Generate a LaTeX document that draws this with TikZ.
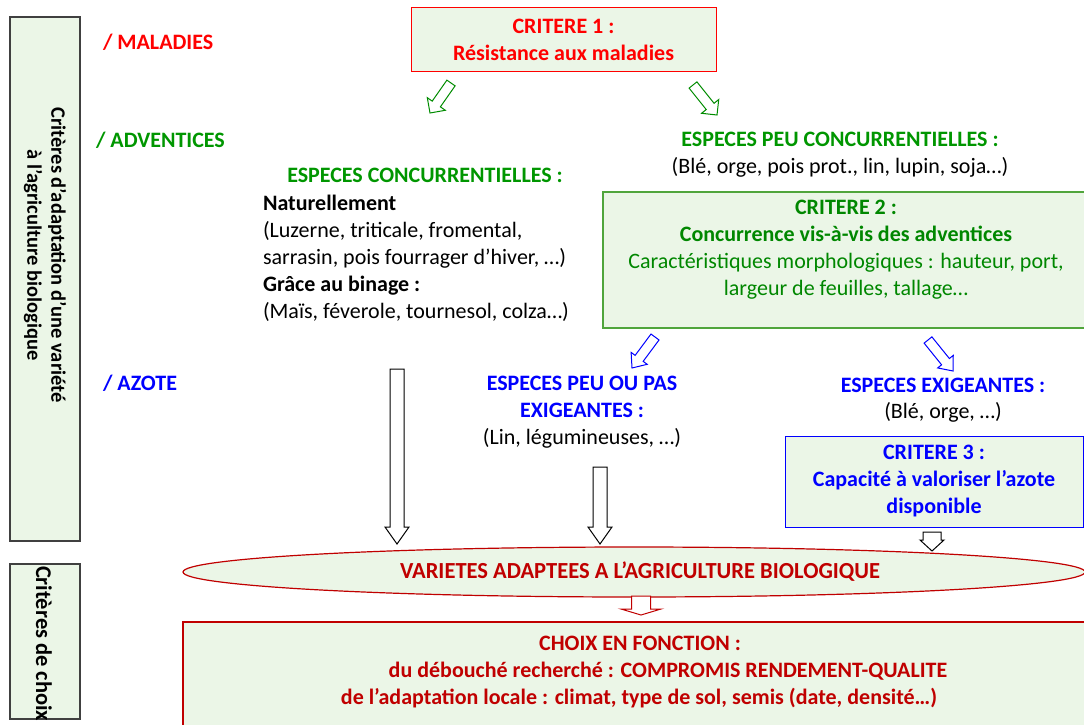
\documentclass[tikz,border=0pt]{standalone}
\usepackage{fontspec}
\setmainfont{Carlito}
\usetikzlibrary{calc,shapes.geometric}
\definecolor{lgfill}{RGB}{235,246,231}
\definecolor{critred}{RGB}{255,0,0}
\definecolor{darkred}{RGB}{192,0,0}
\definecolor{hgreen}{RGB}{0,150,0}
\definecolor{c2green}{RGB}{0,135,0}
\definecolor{c2border}{RGB}{80,165,60}
\definecolor{arrgreen}{RGB}{0,140,0}
\definecolor{tblue}{RGB}{0,0,255}
\definecolor{sidegrey}{RGB}{64,64,64}
\newcommand{\blockarrow}[6]{%
  \path ($(#3)!#6!(#2)$) coordinate (bahd);
  \draw[#1] ($(#2)!#4!90:(#3)$) -- ($(bahd)!#4!90:(#3)$) -- ($(bahd)!#5!90:(#3)$) -- (#3)
    -- ($(bahd)!#5!-90:(#3)$) -- ($(bahd)!#4!-90:(#3)$) -- ($(#2)!#4!-90:(#3)$) -- cycle;}
\begin{document}
\begin{tikzpicture}[x=1pt,y=-1pt,
  every node/.style={inner sep=0pt, outer sep=0pt},
  fr/.style={font=\fontsize{22}{27}\selectfont},
  fb/.style={font=\fontsize{22}{27}\selectfont\bfseries},
  fside/.style={font=\fontsize{20.5}{24}\selectfont\bfseries},
  critbox/.style={rectangle, fill=lgfill, line width=1.2pt, align=center},
  sidebox/.style={rectangle, draw=sidegrey, fill=lgfill, line width=1.2pt},
  harrow/.style={line width=1pt, fill=white, line join=miter}]
\useasboundingbox (0,0) rectangle (1084,725);

% side boxes
\node[sidebox, minimum width=70, minimum height=524] (side1) at (45,279) {};
\node[fside, rotate=-90, align=center] (side1t) at (45,255) {Critères d’adaptation d’une variété\\à l’agriculture biologique};
\node[sidebox, minimum width=70, minimum height=155] (side2) at (45,641.5) {};
\node[font=\fontsize{22.5}{27}\selectfont\bfseries, rotate=-90, anchor=west] (side2t) at (44,566) {Critères de choix};

% row labels
\node[fb, text=critred, anchor=west] (lmal) at (103,42) {/ MALADIES};
\node[fb, text=hgreen, anchor=west] (ladv) at (96,140) {/ ADVENTICES};
\node[fb, text=tblue, anchor=west] (laz) at (103,383) {/ AZOTE};

% critere 1
\node[critbox, fb, draw=critred, text=critred, minimum width=305, minimum height=64, line width=1pt] (c1) at (563.5,40) {CRITERE 1 :\\Résistance aux maladies};

% especes concurrentielles
\node[fb, text=hgreen] (ec) at (425,175) {ESPECES CONCURRENTIELLES :};
\node[fr, anchor=west, align=left] (ecl) at (263,258) {{\bfseries Naturellement}\\(Luzerne, triticale, fromental,\\sarrasin, pois fourrager d’hiver, …)\\{\bfseries Grâce au binage :}\\(Maïs, féverole, tournesol, colza…)};

% especes peu concurrentielles
\node[fb, text=hgreen] (epc) at (840,139) {ESPECES PEU CONCURRENTIELLES :};
\node[fr] (epcl) at (840,167) {(Blé, orge, pois prot., lin, lupin, soja…)};

% critere 2
\node[critbox, draw=c2border, minimum width=486, minimum height=136] (c2) at (846,260) {};
\node[fr, text=c2green, align=center] (c2t) at (846,250) {{\bfseries CRITERE 2 :}\\{\bfseries Concurrence vis-à-vis des adventices}\\Caractéristiques morphologiques : hauteur, port,\\largeur de feuilles, tallage…};

% azote
\node[fb, text=tblue, align=center] (epe) at (582,397) {ESPECES PEU OU PAS\\EXIGEANTES :};
\node[fr] (epel) at (582,438) {(Lin, légumineuses, …)};
\node[fb, text=tblue] (ee) at (943,385) {ESPECES EXIGEANTES :};
\node[fr] (eel) at (943,412) {(Blé, orge, …)};

% critere 3
\node[critbox, fb, draw=tblue, text=tblue, minimum width=298, minimum height=91, line width=1pt] (c3) at (934,481.5) {CRITERE 3 :\\Capacité à valoriser l’azote\\disponible};

% ellipse
\node[ellipse, draw=darkred, fill=lgfill, line width=1.2pt, minimum width=902, minimum height=50] (var) at (634,572) {};
\node[font=\fontsize{23}{27}\selectfont\bfseries, text=darkred, xscale=0.98] (vart) at (640,572) {VARIETES ADAPTEES A L’AGRICULTURE BIOLOGIQUE};

% choix box
\node[rectangle, draw=darkred, fill=lgfill, line width=1.2pt, minimum width=910, minimum height=120, anchor=north west] (choix) at (183,622) {};
\node[fb, text=darkred] (ch1) at (640,643) {CHOIX EN FONCTION :};
\node[fb, text=darkred] (ch2) at (668,671) {du débouché recherché : COMPROMIS RENDEMENT-QUALITE};
\node[fb, text=darkred] (ch3) at (639,698) {de l’adaptation locale : climat, type de sol, semis (date, densité…)};

% arrow coordinates
\coordinate (g1a) at (451,83);  \coordinate (g1b) at (430,113);
\coordinate (g2a) at (693,85);  \coordinate (g2b) at (717,115);
\coordinate (b1a) at (655,337); \coordinate (b1b) at (632,368);
\coordinate (b2a) at (928,340); \coordinate (b2b) at (953,371);
\coordinate (k1a) at (397,369); \coordinate (k1b) at (397,544);
\coordinate (k2a) at (600,467); \coordinate (k2b) at (600,544);
\coordinate (k3a) at (932,532); \coordinate (k3b) at (932,551);
\coordinate (r1a) at (641,596); \coordinate (r1b) at (641,615);

\blockarrow{harrow, draw=arrgreen}{g1a}{g1b}{5pt}{11pt}{11pt}
\blockarrow{harrow, draw=arrgreen}{g2a}{g2b}{5pt}{11pt}{11pt}
\blockarrow{harrow, draw=tblue}{b1a}{b1b}{5pt}{10pt}{12pt}
\blockarrow{harrow, draw=tblue}{b2a}{b2b}{5pt}{10pt}{12pt}
\blockarrow{harrow, draw=black}{k1a}{k1b}{7pt}{12pt}{17pt}
\blockarrow{harrow, draw=black}{k2a}{k2b}{7pt}{12pt}{17pt}
\blockarrow{harrow, draw=black}{k3a}{k3b}{9pt}{12pt}{11pt}
\blockarrow{harrow, draw=darkred}{r1a}{r1b}{9.5pt}{20pt}{6pt}
\end{tikzpicture}
\end{document}
